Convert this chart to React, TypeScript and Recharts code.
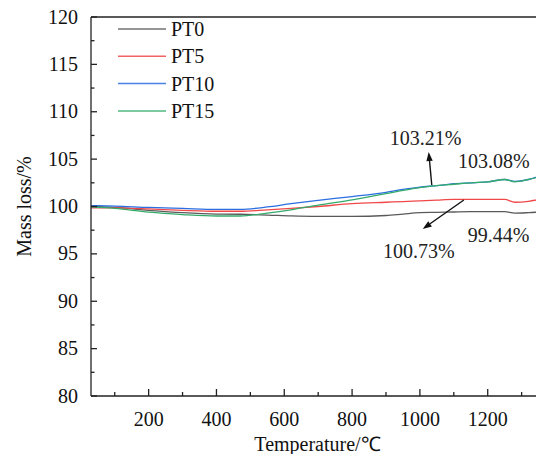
import React from 'react';
import { LineChart, Line, XAxis, YAxis, Legend, ReferenceLine, ReferenceDot } from 'recharts';

const temperature = [30, 100, 200, 300, 400, 470, 550, 620, 700, 800, 900, 950, 1000, 1050, 1100, 1150, 1200, 1250, 1280, 1320, 1366];
const pt0 = [100.0, 99.9, 99.6, 99.35, 99.2, 99.18, 99.1, 99.0, 98.95, 98.95, 99.05, 99.2, 99.35, 99.38, 99.42, 99.45, 99.45, 99.45, 99.3, 99.35, 99.45];
const pt5 = [99.85, 99.85, 99.75, 99.6, 99.5, 99.5, 99.65, 99.8, 100.0, 100.3, 100.45, 100.52, 100.6, 100.68, 100.75, 100.75, 100.75, 100.75, 100.45, 100.55, 100.87];
const pt10 = [100.1, 100.05, 99.9, 99.8, 99.7, 99.7, 99.95, 100.3, 100.65, 101.05, 101.5, 101.8, 102.05, 102.2, 102.4, 102.5, 102.6, 102.85, 102.65, 102.85, 103.4];
const pt15 = [99.95, 99.8, 99.4, 99.15, 99.0, 99.0, 99.3, 99.65, 100.15, 100.7, 101.35, 101.7, 102.0, 102.2, 102.35, 102.5, 102.6, 102.85, 102.6, 102.85, 103.3];

const xTicks = [100, 200, 300, 400, 500, 600, 700, 800, 900, 1000, 1100, 1200, 1300];
const yTicks = [80, 82.5, 85, 87.5, 90, 92.5, 95, 97.5, 100, 102.5, 105, 107.5, 110, 112.5, 115, 117.5, 120];

const series = [
  { key: 'PT0', values: pt0, color: '#5a5a5a' },
  { key: 'PT5', values: pt5, color: '#f04848' },
  { key: 'PT10', values: pt10, color: '#2b6ee0' },
  { key: 'PT15', values: pt15, color: '#34ab6b' },
];

// annotation labels [text, x, y] and arrows [x1, y1, x2, y2] in data units
const labels: [string, number, number][] = [
  ['103.21%', 1017, 107.23],
  ['103.08%', 1218, 104.85],
  ['100.73%', 997, 95.3],
  ['99.44%', 1232, 97.04],
];
const arrows: [number, number, number, number][] = [
  [1035, 102.27, 1026, 105.75],
  [1129.6, 100.69, 1008.3, 97.63],
];

const data = temperature.map((t, i) => {
  const row: Record<string, number> = { t };
  series.forEach(s => { row[s.key] = s.values[i]; });
  return row;
});

const FONT = '"Liberation Serif", "Times New Roman", serif';
const AXIS = '#222';

function XTick(props: any) {
  const { x, y, payload } = props;
  const major = payload.value % 200 === 0;
  return (
    <g>
      <line x1={x} y1={y} x2={x} y2={y - (major ? 7 : 4)} stroke={AXIS} strokeWidth={1.3} />
      {major && (
        <text x={x} y={y + 30} textAnchor="middle" fontFamily={FONT} fontSize={20} fill="#111">
          {payload.value}
        </text>
      )}
    </g>
  );
}

function YTick(props: any) {
  const { x, y, payload } = props;
  const major = payload.value % 5 === 0;
  return (
    <g>
      <line x1={x} y1={y} x2={x + (major ? 6 : 3.5)} y2={y} stroke={AXIS} strokeWidth={1.3} />
      {major && (
        <text x={x - 13} y={y + 6.5} textAnchor="end" fontFamily={FONT} fontSize={20} fill="#111">
          {payload.value}
        </text>
      )}
    </g>
  );
}

function Arrow(props: any) {
  const { x1, y1, x2, y2 } = props;
  const ang = Math.atan2(y2 - y1, x2 - x1);
  const len = 9;
  const w = 3.2;
  const bx = x2 - len * Math.cos(ang);
  const by = y2 - len * Math.sin(ang);
  const px = -Math.sin(ang) * w;
  const py = Math.cos(ang) * w;
  return (
    <g>
      <line x1={x1} y1={y1} x2={bx} y2={by} stroke="#111" strokeWidth={1.4} />
      <polygon points={`${x2},${y2} ${bx + px},${by + py} ${bx - px},${by - py}`} fill="#111" />
    </g>
  );
}

function LegendBox() {
  return (
    <svg width={160} height={124} style={{ overflow: 'visible', display: 'block' }}>
      {series.map((s, i) => (
        <g key={s.key}>
          <line x1={0} x2={48} y1={12 + i * 27.3} y2={12 + i * 27.3} stroke={s.color} strokeWidth={1.5} opacity={0.85} />
          <text x={53} y={19 + i * 27.3} fontFamily={FONT} fontSize={20} fill="#111">{s.key}</text>
        </g>
      ))}
    </svg>
  );
}

export default function App() {
  return (
    <div style={{ width: 544, height: 462, margin: -8, overflow: 'hidden', position: 'relative' }}>
      <LineChart width={544} height={462} data={data} margin={{ top: 17, right: 0, bottom: 0, left: 8 }}>
        <XAxis
          dataKey="t"
          type="number"
          domain={[30, 1366]}
          ticks={xTicks}
          interval={0}
          tickSize={0}
          tickMargin={0}
          tickLine={false}
          tick={<XTick />}
          height={66}
          axisLine={{ stroke: AXIS, strokeWidth: 1.3 }}
          label={{ value: 'Temperature/℃', position: 'insideBottom', offset: 11, fontFamily: FONT, fontSize: 20, fill: '#111' }}
        />
        <YAxis
          type="number"
          domain={[80, 120]}
          ticks={yTicks}
          interval={0}
          width={83}
          tickSize={0}
          tickMargin={0}
          tickLine={false}
          tick={<YTick />}
          axisLine={{ stroke: AXIS, strokeWidth: 1.3 }}
          label={{ value: 'Mass loss/%', angle: -90, position: 'insideLeft', offset: 16, fontFamily: FONT, fontSize: 20, fill: '#111', style: { textAnchor: 'middle' } }}
        />
        <ReferenceLine y={120} stroke={AXIS} strokeWidth={1.3} />
        <Legend
          layout="vertical"
          align="center"
          verticalAlign="middle"
          wrapperStyle={{ left: 118, top: 17, width: 160, height: 124 }}
          content={() => <LegendBox />}
        />
        {series.map(s => (
          <Line
            key={s.key}
            type="monotone"
            dataKey={s.key}
            stroke={s.color}
            strokeWidth={1.3}
            dot={false}
            isAnimationActive={false}
          />
        ))}
        {arrows.map((a, i) => (
          <ReferenceLine
            key={'a' + i}
            segment={[{ x: a[0], y: a[1] }, { x: a[2], y: a[3] }]}
            shape={(p: any) => <Arrow {...p} />}
          />
        ))}
        {labels.map(([txt, x, y]) => (
          <ReferenceDot
            key={txt}
            x={x}
            y={y}
            r={0}
            shape={(p: any) => (
              <text x={p.cx} y={p.cy} textAnchor="middle" dominantBaseline="central" fontFamily={FONT} fontSize={20} fill="#222">
                {txt}
              </text>
            )}
          />
        ))}
      </LineChart>
    </div>
  );
}
